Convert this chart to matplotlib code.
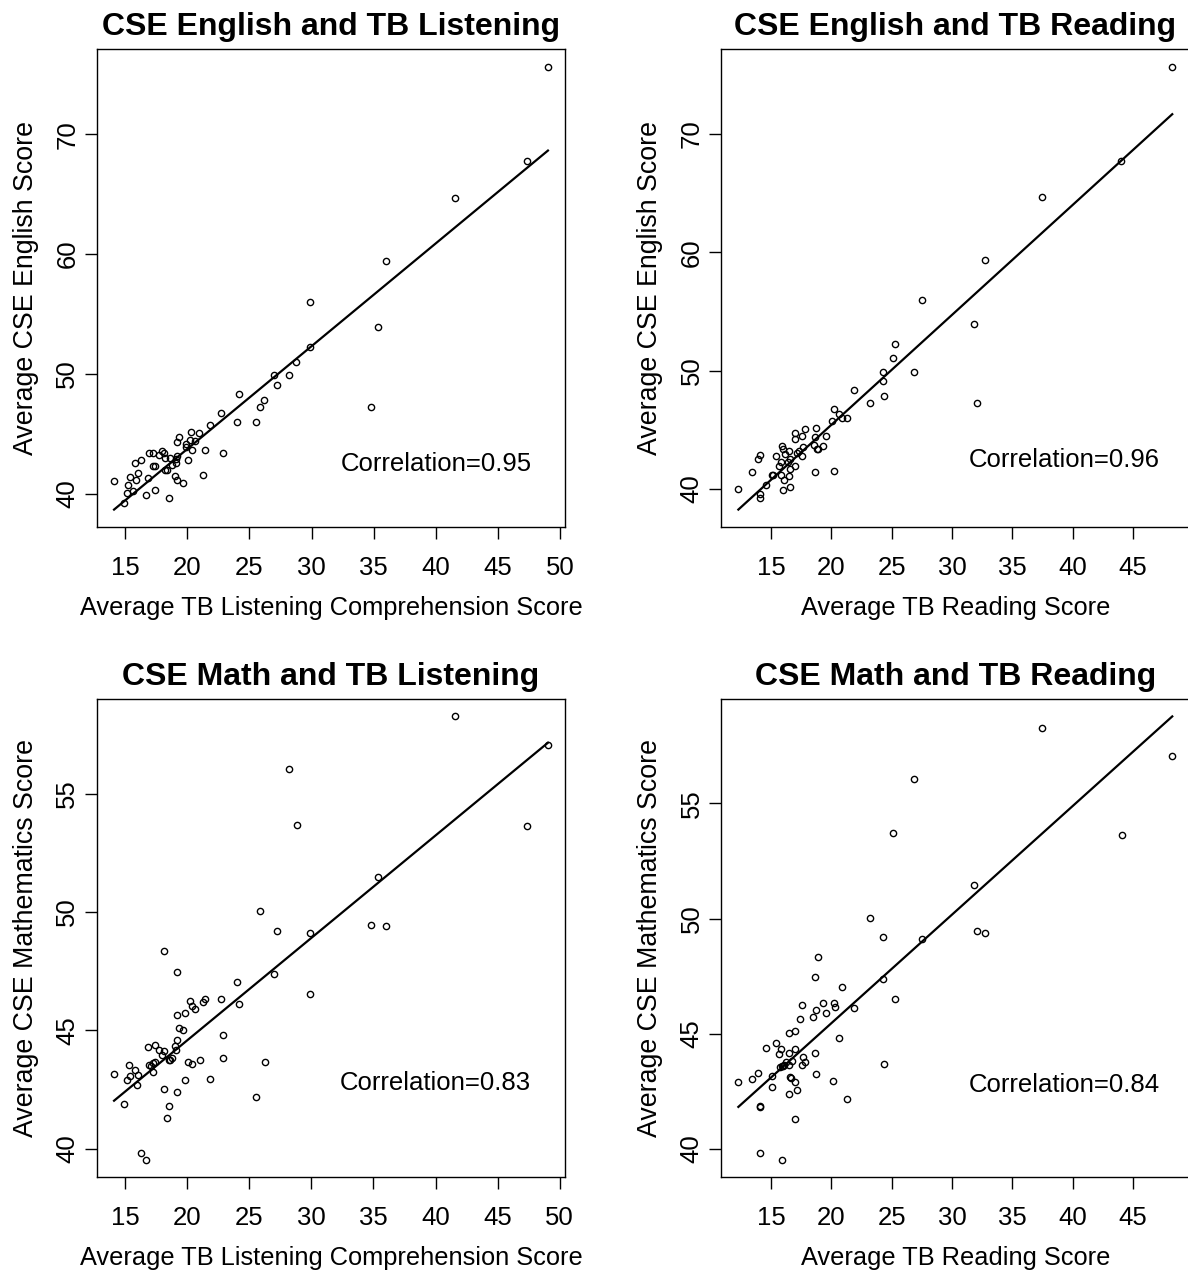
import numpy as np
import matplotlib
matplotlib.use('Agg')
import matplotlib.pyplot as plt
from matplotlib.ticker import MultipleLocator

plt.rcParams['font.family'] = ['Liberation Sans', 'DejaVu Sans']

# average scores
eng_listen_x = [49.01, 47.32, 41.56, 35.99, 29.86, 35.35, 29.86, 28.79, 28.18, 26.98,
                27.26, 24.13, 26.21, 25.82, 34.8, 22.69, 24.0, 25.57, 21.8, 20.33,
                19.32, 20.97, 19.2, 20.24, 20.61, 19.87, 20.4, 21.41, 19.87, 22.85,
                16.97, 17.27, 18.0, 18.16, 17.76, 18.19, 18.62, 19.2, 19.11, 20.09,
                16.32, 15.8, 17.27, 17.43, 18.8, 19.08, 18.4, 18.25, 16.08, 15.4,
                16.84, 15.92, 19.04, 19.2, 19.69, 21.29, 14.12, 15.28, 15.16, 15.68,
                17.39, 16.69, 18.53, 14.88]
eng_listen_y = [75.64, 67.76, 64.69, 59.44, 55.97, 53.9, 52.22, 50.99, 49.87, 49.87,
                49.06, 48.34, 47.79, 47.22, 47.22, 46.7, 45.99, 45.99, 45.72, 45.17,
                44.76, 45.04, 44.35, 44.49, 44.43, 44.16, 43.61, 43.67, 43.89, 43.36,
                43.36, 43.36, 43.53, 43.4, 43.2, 42.98, 42.98, 43.12, 42.87, 42.82,
                42.82, 42.52, 42.27, 42.27, 42.38, 42.52, 41.97, 41.97, 41.7, 41.43,
                41.29, 41.12, 41.45, 41.15, 40.88, 41.56, 41.02, 40.74, 40.06, 40.22,
                40.33, 39.92, 39.65, 39.24]

eng_read_x = [48.26, 44.04, 37.48, 32.76, 27.52, 31.8, 25.25, 25.09, 24.32, 26.83,
              24.32, 21.86, 24.41, 23.2, 32.11, 20.25, 20.06, 20.65, 20.9, 21.3,
              17.83, 17.02, 18.76, 17.58, 17.02, 18.63, 19.57, 19.32, 18.79, 18.94,
              18.57, 15.9, 15.96, 16.49, 17.64, 17.36, 17.14, 17.58, 15.4, 16.15,
              14.1, 13.91, 16.61, 15.81, 15.65, 16.4, 16.99, 16.58, 13.39, 15.09,
              15.16, 15.81, 16.46, 16.09, 18.63, 20.25, 14.6, 12.3, 16.61, 15.96,
              14.07, 14.07]
eng_read_y = [75.67, 67.74, 64.66, 59.37, 55.97, 53.96, 52.28, 51.04, 49.92, 49.92,
              49.09, 48.38, 47.83, 47.25, 47.25, 46.73, 45.77, 46.32, 46.02, 46.02,
              45.05, 44.78, 45.19, 44.51, 44.23, 44.37, 44.51, 43.68, 43.41, 43.41,
              43.76, 43.68, 43.41, 43.24, 43.54, 43.21, 43.02, 42.8, 42.83, 42.97,
              42.86, 42.53, 42.53, 42.28, 41.98, 42.31, 41.98, 41.7, 41.43, 41.15,
              41.21, 41.15, 41.1, 40.74, 41.43, 41.57, 40.33, 40.05, 40.19, 39.92,
              39.56, 39.23]

math_listen_x = [41.6, 49.05, 28.19, 28.83, 47.36, 35.37, 25.83, 34.82, 36.01, 27.27,
                 29.88, 18.16, 19.2, 26.99, 24.02, 29.88, 22.7, 20.21, 21.41, 21.29,
                 20.37, 20.61, 24.14, 19.2, 19.85, 19.33, 19.69, 22.85, 19.2, 16.84,
                 17.39, 17.76, 18.16, 19.05, 19.08, 18.0, 18.8, 18.53, 18.65, 22.85,
                 21.01, 20.09, 20.37, 26.23, 15.28, 16.93, 17.39, 17.27, 17.09, 14.11,
                 15.8, 15.4, 16.07, 15.15, 17.24, 15.92, 21.81, 19.85, 18.16, 19.2,
                 25.58, 14.88, 18.53, 18.4, 16.32, 16.72]
math_listen_y = [58.26, 57.05, 56.05, 53.69, 53.62, 51.47, 50.04, 49.46, 49.39, 49.18,
                 49.11, 48.35, 47.45, 47.38, 47.03, 46.52, 46.32, 46.25, 46.32, 46.18,
                 46.04, 45.9, 46.11, 45.66, 45.73, 45.1, 45.03, 44.82, 44.61, 44.31,
                 44.39, 44.18, 44.11, 44.32, 44.15, 43.94, 43.83, 43.73, 43.76, 43.82,
                 43.75, 43.66, 43.59, 43.68, 43.54, 43.54, 43.66, 43.62, 43.51, 43.17,
                 43.31, 43.06, 43.13, 42.89, 43.24, 42.68, 42.96, 42.89, 42.54, 42.39,
                 42.18, 41.9, 41.82, 41.31, 39.83, 39.54]

math_read_x = [37.48, 48.26, 26.83, 25.09, 44.07, 31.8, 23.2, 32.11, 32.76, 24.32,
               27.52, 18.88, 18.63, 24.32, 20.93, 25.25, 19.32, 17.58, 20.25, 20.28,
               18.76, 19.57, 21.86, 17.42, 18.48, 17.02, 16.49, 20.65, 15.4, 14.6,
               15.81, 17.02, 16.49, 18.63, 15.65, 17.67, 16.77, 17.8, 17.58, 16.21,
               16.09, 16.49, 15.9, 15.78, 16.02, 24.41, 13.91, 15.12, 13.39, 16.61,
               16.68, 18.76, 12.3, 17.02, 20.12, 15.12, 17.14, 16.49, 21.3, 14.07,
               14.07, 17.02, 14.07, 15.93]
math_read_y = [58.26, 57.05, 56.05, 53.69, 53.62, 51.47, 50.04, 49.46, 49.39, 49.18,
               49.11, 48.35, 47.45, 47.38, 47.03, 46.52, 46.32, 46.25, 46.32, 46.18,
               46.04, 45.9, 46.11, 45.66, 45.73, 45.1, 45.03, 44.82, 44.61, 44.39,
               44.32, 44.32, 44.18, 44.18, 44.11, 43.97, 43.83, 43.76, 43.66, 43.76,
               43.66, 43.66, 43.59, 43.54, 43.59, 43.68, 43.31, 43.17, 43.03, 43.13,
               43.1, 43.24, 42.89, 42.89, 42.96, 42.68, 42.54, 42.39, 42.18, 41.87,
               41.82, 41.31, 39.82, 39.54]

# fitted regression lines (intercept, slope)
fit_intercepts = [26.54, 26.85, 35.92, 36.03]
fit_slopes = [0.859, 0.9285, 0.4328, 0.4712]

titles = ['CSE English and TB Listening', 'CSE English and TB Reading',
          'CSE Math and TB Listening', 'CSE Math and TB Reading']
xlabels = ['Average TB Listening Comprehension Score', 'Average TB Reading Score',
           'Average TB Listening Comprehension Score', 'Average TB Reading Score']
ylabels = ['Average CSE English Score', 'Average CSE English Score',
           'Average CSE Mathematics Score', 'Average CSE Mathematics Score']
corr_labels = ['Correlation=0.95', 'Correlation=0.96', 'Correlation=0.83', 'Correlation=0.84']

panels = [(eng_listen_x, eng_listen_y), (eng_read_x, eng_read_y),
          (math_listen_x, math_listen_y), (math_read_x, math_read_y)]

W, H = 1188, 1275
fig = plt.figure(figsize=(W / 100, H / 100), dpi=100)

# pixel boxes: left, top, right, bottom (right column runs past the image edge)
boxes = [(96.7, 49, 565.3, 527.3), (721, 49, 1189.6, 527.3),
         (96.7, 698.7, 565.3, 1177.3), (721, 698.7, 1189.6, 1177.3)]
corr_pos = [(40.0, 41.9), (39.3, 41.9), (40.0, 42.49), (39.3, 42.49)]
y_step = [10, 10, 5, 5]

for i, (xs, ys) in enumerate(panels):
    l, t, r, b = boxes[i]
    ax = fig.add_axes([l / W, 1 - b / H, (r - l) / W, (b - t) / H])
    xs = np.array(xs)
    ys = np.array(ys)
    ax.plot(xs, ys, 'o', ms=4.5, mfc='none', mec='black', mew=1.0)
    xl = np.array([xs.min(), xs.max()])
    ax.plot(xl, fit_intercepts[i] + fit_slopes[i] * xl, color='black', lw=1.6)
    ax.margins(0.04)
    ax.xaxis.set_major_locator(MultipleLocator(5))
    ax.yaxis.set_major_locator(MultipleLocator(y_step[i]))
    ax.tick_params(direction='out', length=8.5, width=1, labelsize=18.5)
    ax.tick_params(axis='x', pad=12.5)
    ax.tick_params(axis='y', pad=4)
    for lab in ax.get_yticklabels():
        lab.set_rotation(90)
        lab.set_va('center')
    for s in ax.spines.values():
        s.set_linewidth(1.0)
    ax.set_title(titles[i], fontsize=23, fontweight='bold', pad=10)
    ax.set_xlabel(xlabels[i], fontsize=18.3, labelpad=11)
    ax.set_ylabel(ylabels[i], fontsize=19.3, labelpad=12)
    ax.text(corr_pos[i][0], corr_pos[i][1], corr_labels[i], fontsize=18.5,
            ha='center', va='baseline')

fig.savefig('out.png', dpi=100)
